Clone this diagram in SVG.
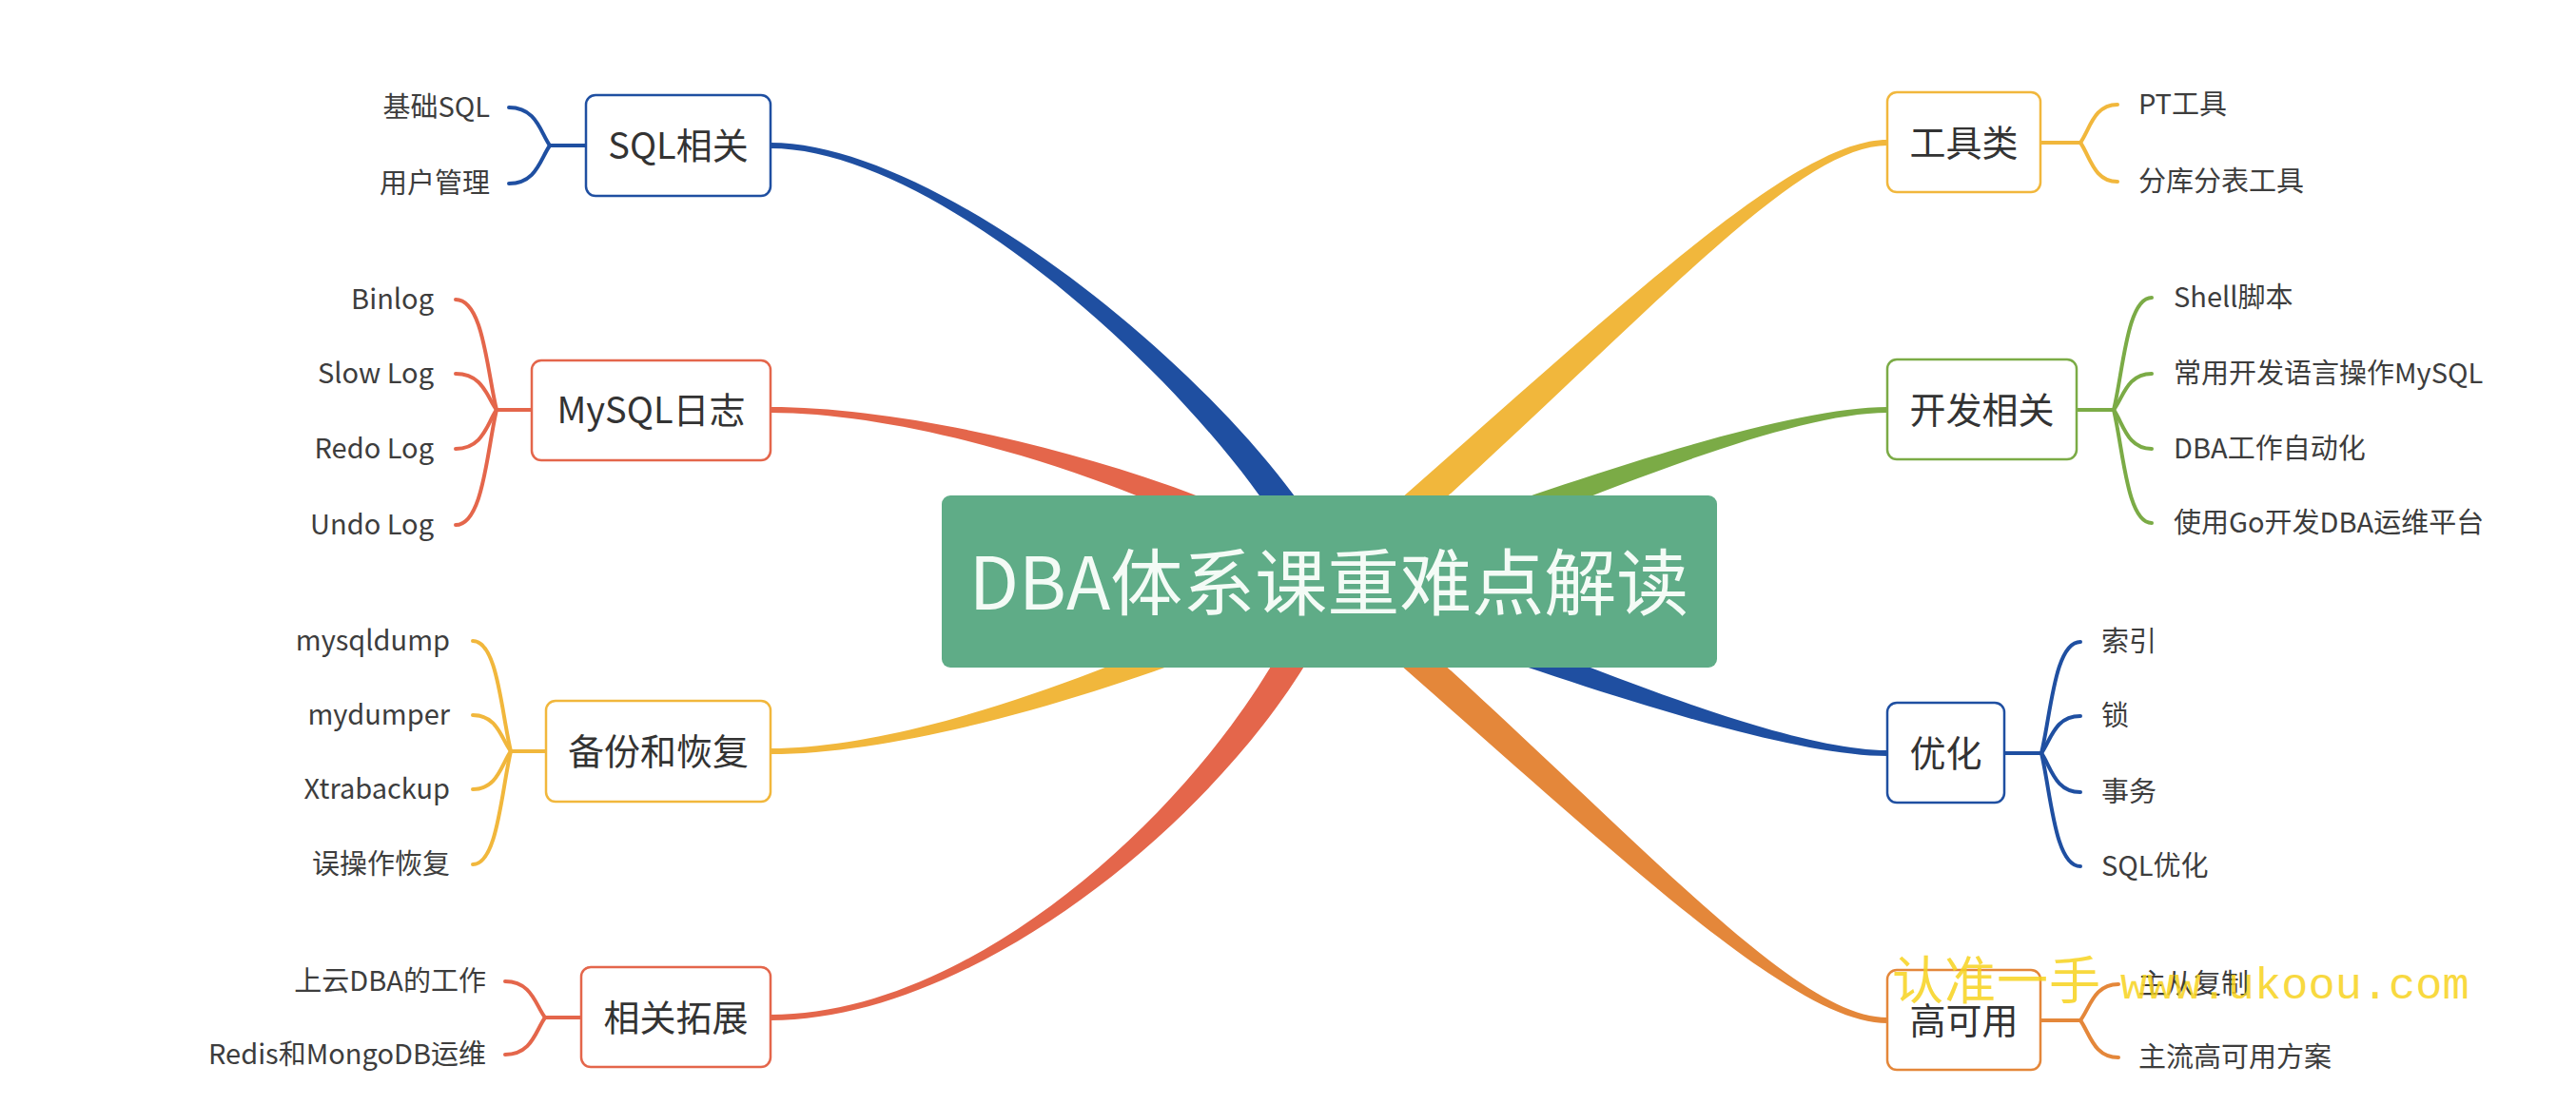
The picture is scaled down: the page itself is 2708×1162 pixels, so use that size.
<svg xmlns="http://www.w3.org/2000/svg" width="2708" height="1162" viewBox="0 0 2708 1162">
<style>
.bg{fill:#ffffff}
.box{fill:#ffffff;stroke-width:2.5}
.lbl{font-family:"Noto Sans CJK SC","Noto Sans",sans-serif;font-size:38px;fill:#333333;text-anchor:middle}
.ch{font-family:"Noto Sans CJK SC","Noto Sans",sans-serif;font-size:29px;fill:#3d3d3d}
.chl{text-anchor:end}
.sub{fill:none;stroke-width:4;stroke-linecap:round}
.blue{stroke:#1f4fa1}
.red{stroke:#e4664b}
.yellow{stroke:#f1b73c}
.green{stroke:#7bab46}
.orange{stroke:#e4873a}
.fblue{fill:#1f4fa1}
.fred{fill:#e4664b}
.fyellow{fill:#f1b73c}
.fgreen{fill:#7bab46}
.forange{fill:#e4873a}
</style>
<rect class="bg" x="0" y="0" width="2708" height="1162"/>
<g id="connectors">
  <!-- main tapered branches -->
  <path class="fblue" d="M1411.6,605.5 C1334.6,433.5 1000,150 810,150 L810,156 C1000,156 1305.4,446.5 1382.4,618.5 Z"/>
  <path class="fred" d="M1407.3,599.8 C1310.3,517.8 1000,428 810,428 L810,434 C1000,434 1289.7,542.2 1386.7,624.2 Z"/>
  <path class="fyellow" d="M1389.3,598 C1292.3,651 1000,787 810,787 L810,793 C1000,793 1307.7,679 1404.7,626 Z"/>
  <path class="fred" d="M1381.9,606.6 C1314.9,794.6 1050,1067 810,1067 L810,1073 C1050,1073 1345.1,805.4 1412.1,617.4 Z"/>
  <path class="fyellow" d="M1407.5,624.1 C1707.5,363.1 1880,153 1984,153 L1984,147 C1880,147 1686.5,338.9 1386.5,599.9 Z"/>
  <path class="fgreen" d="M1402.2,627.2 C1555.2,575.2 1850,434 1984,434 L1984,428 C1850,428 1544.8,544.8 1391.8,596.8 Z"/>
  <path class="fblue" d="M1391.8,627.1 C1544.8,680.1 1850,795 1984,795 L1984,789 C1850,789 1555.2,649.9 1402.2,596.9 Z"/>
  <path class="forange" d="M1386.5,624.1 C1686.5,885.1 1880,1076 1984,1076 L1984,1070 C1880,1070 1707.5,860.9 1407.5,599.9 Z"/>
  <!-- sub branches: SQL相关 -->
  <path class="sub blue" d="M616,153 L578,153"/>
  <path class="sub blue" d="M578,153 C568,139 564,113 535,113"/>
  <path class="sub blue" d="M578,153 C568,167 564,193 535,193"/>
  <!-- MySQL日志 -->
  <path class="sub red" d="M559,431 L522,431"/>
  <path class="sub red" d="M522,431 C512,390 508,315 479,315"/>
  <path class="sub red" d="M522,431 C512,418 508,393 479,393"/>
  <path class="sub red" d="M522,431 C512,445 508,472 479,472"/>
  <path class="sub red" d="M522,431 C512,473 508,552 479,552"/>
  <!-- 备份和恢复 -->
  <path class="sub yellow" d="M574,790 L537,790"/>
  <path class="sub yellow" d="M537,790 C527,749 523,674 497,674"/>
  <path class="sub yellow" d="M537,790 C527,777 523,752 497,752"/>
  <path class="sub yellow" d="M537,790 C527,804 523,830 497,830"/>
  <path class="sub yellow" d="M537,790 C527,832 523,909 497,909"/>
  <!-- 相关拓展 -->
  <path class="sub red" d="M611,1070 L573,1070"/>
  <path class="sub red" d="M573,1070 C563,1057 559,1032 531,1032"/>
  <path class="sub red" d="M573,1070 C563,1084 559,1109 531,1109"/>
  <!-- 工具类 -->
  <path class="sub yellow" d="M2145,150 L2187,150"/>
  <path class="sub yellow" d="M2187,150 C2197,136 2201,110 2226,110"/>
  <path class="sub yellow" d="M2187,150 C2197,164 2201,191 2226,191"/>
  <!-- 开发相关 -->
  <path class="sub green" d="M2183,431 L2222,431"/>
  <path class="sub green" d="M2222,431 C2232,390 2236,313 2262,313"/>
  <path class="sub green" d="M2222,431 C2232,418 2236,393 2262,393"/>
  <path class="sub green" d="M2222,431 C2232,445 2236,472 2262,472"/>
  <path class="sub green" d="M2222,431 C2232,473 2236,550 2262,550"/>
  <!-- 优化 -->
  <path class="sub blue" d="M2107,792 L2146,792"/>
  <path class="sub blue" d="M2146,792 C2156,751 2160,675 2187,675"/>
  <path class="sub blue" d="M2146,792 C2156,778 2160,753 2187,753"/>
  <path class="sub blue" d="M2146,792 C2156,806 2160,833 2187,833"/>
  <path class="sub blue" d="M2146,792 C2156,834 2160,911 2187,911"/>
  <!-- 高可用 -->
  <path class="sub orange" d="M2145,1073 L2187,1073"/>
  <path class="sub orange" d="M2187,1073 C2197,1060 2201,1035 2227,1035"/>
  <path class="sub orange" d="M2187,1073 C2197,1087 2201,1112 2227,1112"/>
</g>
<g id="root">
  <rect x="990" y="521" width="815" height="181" rx="9" fill="#5fac87"/>
  <text x="1397" y="641" font-family="'Noto Sans CJK SC','Noto Sans',sans-serif" font-size="76" fill="#f4fbf6" text-anchor="middle">DBA体系课重难点解读</text>
</g>
<g id="node-sql">
  <rect class="box blue" x="616" y="100" width="194" height="106" rx="10"/>
  <text class="lbl" x="713" y="167">SQL相关</text>
  <text class="ch chl" x="515" y="123">基础SQL</text>
  <text class="ch chl" x="515" y="203">用户管理</text>
</g>
<g id="node-mysqllog">
  <rect class="box red" x="559" y="379" width="251" height="105" rx="10"/>
  <text class="lbl" x="684.5" y="445">MySQL日志</text>
  <text class="ch chl" x="456" y="325">Binlog</text>
  <text class="ch chl" x="456" y="403">Slow Log</text>
  <text class="ch chl" x="456" y="482">Redo Log</text>
  <text class="ch chl" x="456" y="562">Undo Log</text>
</g>
<g id="node-backup">
  <rect class="box yellow" x="574" y="737" width="236" height="106" rx="10"/>
  <text class="lbl" x="692" y="804">备份和恢复</text>
  <text class="ch chl" x="473" y="684">mysqldump</text>
  <text class="ch chl" x="473" y="762">mydumper</text>
  <text class="ch chl" x="473" y="840">Xtrabackup</text>
  <text class="ch chl" x="473" y="919">误操作恢复</text>
</g>
<g id="node-ext">
  <rect class="box red" x="611" y="1017" width="199" height="105" rx="10"/>
  <text class="lbl" x="710.5" y="1084">相关拓展</text>
  <text class="ch chl" x="511" y="1042">上云DBA的工作</text>
  <text class="ch chl" x="511" y="1119">Redis和MongoDB运维</text>
</g>
<g id="node-tools">
  <rect class="box yellow" x="1984" y="97" width="161" height="105" rx="10"/>
  <text class="lbl" x="2064.5" y="164">工具类</text>
  <text class="ch" x="2248" y="120">PT工具</text>
  <text class="ch" x="2248" y="201">分库分表工具</text>
</g>
<g id="node-dev">
  <rect class="box green" x="1984" y="378" width="199" height="105" rx="10"/>
  <text class="lbl" x="2083.5" y="445">开发相关</text>
  <text class="ch" x="2285" y="323">Shell脚本</text>
  <text class="ch" x="2285" y="403">常用开发语言操作MySQL</text>
  <text class="ch" x="2285" y="482">DBA工作自动化</text>
  <text class="ch" x="2285" y="560">使用Go开发DBA运维平台</text>
</g>
<g id="node-opt">
  <rect class="box blue" x="1984" y="739" width="123" height="105" rx="10"/>
  <text class="lbl" x="2045.5" y="806">优化</text>
  <text class="ch" x="2209" y="685">索引</text>
  <text class="ch" x="2209" y="763">锁</text>
  <text class="ch" x="2209" y="843">事务</text>
  <text class="ch" x="2209" y="921">SQL优化</text>
</g>
<g id="node-ha">
  <rect class="box orange" x="1984" y="1020" width="161" height="105" rx="10"/>
  <text class="lbl" x="2064.5" y="1087">高可用</text>
  <text class="ch" x="2248" y="1045">主从复制</text>
  <text class="ch" x="2248" y="1122">主流高可用方案</text>
</g>
<g id="watermark" opacity="0.85">
  <text y="1051" fill="#f7d31e"><tspan x="1989" font-family="'Noto Sans CJK SC',sans-serif" font-size="54" letter-spacing="1">认准一手</tspan><tspan x="2229" y="1050" font-family="'Liberation Mono',monospace" font-size="47">www.ukoou.com</tspan></text>
</g>
</svg>
